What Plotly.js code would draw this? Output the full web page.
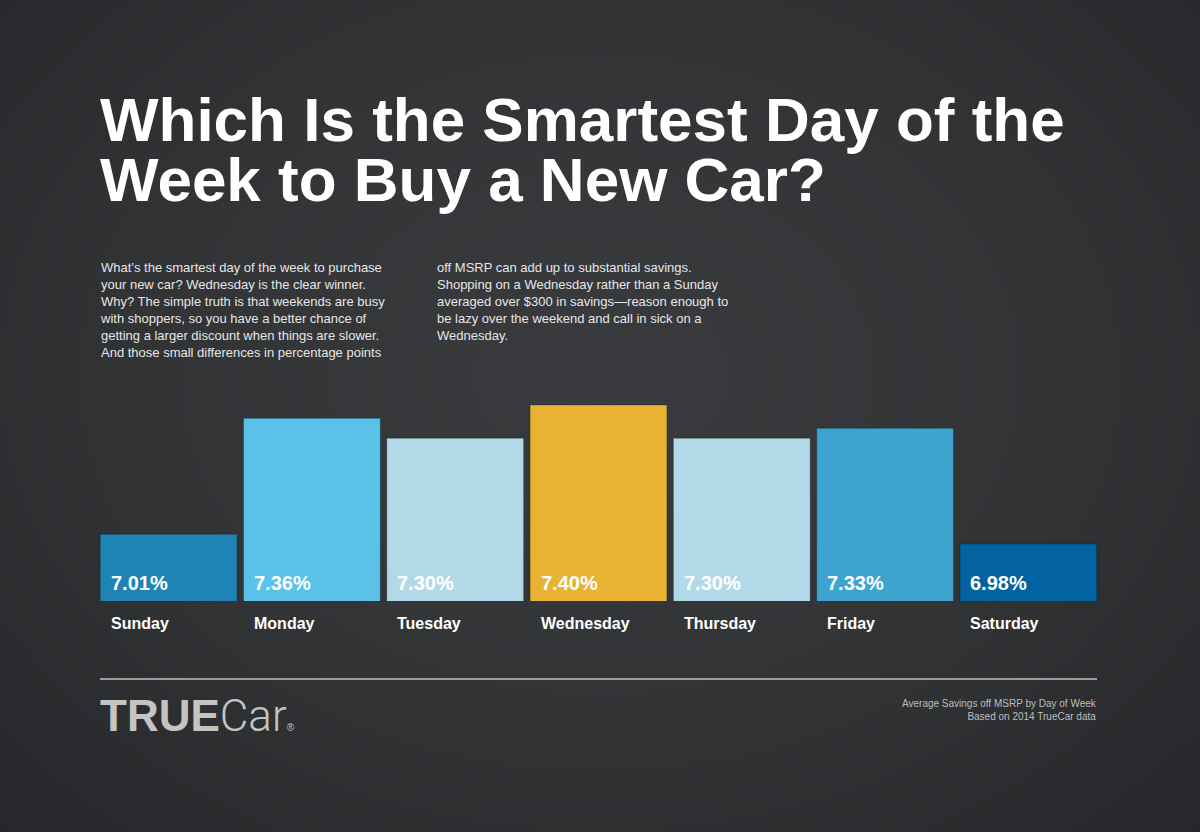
<!DOCTYPE html>
<html>
<head>
<meta charset="utf-8">
<script src="https://cdn.plot.ly/plotly-3.0.1.min.js"></script>
<style>
  html, body { margin: 0; padding: 0; }
  body {
    width: 1200px; height: 832px; overflow: hidden;
    background: radial-gradient(ellipse at 50% 45%, #393b3e 0%, #313335 55%, #26272a 100%);
  }
</style>
</head>
<body>
<div id="chart" style="width:1200px;height:832px;"></div>
<script>
var days = ['Sunday', 'Monday', 'Tuesday', 'Wednesday', 'Thursday', 'Friday', 'Saturday'];
var savings = [7.01, 7.36, 7.30, 7.40, 7.30, 7.33, 6.98];
var barColors = ['#2083b5', '#5ac1e9', '#b2d9e8', '#e8b232', '#b2d9e8', '#3da3cf', '#0263a0'];

var titleLines = ['Which Is the Smartest Day of the', 'Week to Buy a New Car?'];
var introLeft = [
  'What\u2019s the smartest day of the week to purchase',
  'your new car? Wednesday is the clear winner.',
  'Why? The simple truth is that weekends are busy',
  'with shoppers, so you have a better chance of',
  'getting a larger discount when things are slower.',
  'And those small differences in percentage points'
];
var introRight = [
  'off MSRP can add up to substantial savings.',
  'Shopping on a Wednesday rather than a Sunday',
  'averaged over $300 in savings\u2014reason enough to',
  'be lazy over the weekend and call in sick on a',
  'Wednesday.'
];
var footNote = ['Average Savings off MSRP by Day of Week', 'Based on 2014 TrueCar data'];

// plot area in pixels (bars run 100..1097 once the half gaps are taken off)
var L = 97, R = 1100, T = 390, B = 601;
function px(x) { return (x - L) / (R - L); }
function py(y) { return (B - y) / (B - T); }

var font = 'Liberation Sans, Arial, Helvetica, sans-serif';

var trace = {
  type: 'bar',
  x: days,
  y: savings,
  marker: {
    color: barColors,
    line: { color: 'rgba(0,0,0,0.25)', width: 1 }
  },
  hoverinfo: 'x+y'
};

var annotations = [];

days.forEach(function (d, i) {
  annotations.push({
    x: d, xref: 'x', xanchor: 'left', xshift: -60,
    y: 0, yref: 'paper', yanchor: 'middle', yshift: 18,
    text: '<b>' + savings[i].toFixed(2) + '%</b>',
    showarrow: false,
    font: { family: font, size: 20, color: '#ffffff' }
  });
  annotations.push({
    x: d, xref: 'x', xanchor: 'left', xshift: -60,
    y: 0, yref: 'paper', yanchor: 'middle', yshift: -22,
    text: '<b>' + d + '</b>',
    showarrow: false,
    font: { family: font, size: 16, color: '#ffffff' }
  });
});

titleLines.forEach(function (t, i) {
  annotations.push({
    x: px(98), xref: 'paper', xanchor: 'left',
    y: py(119 + i * 60), yref: 'paper', yanchor: 'middle',
    text: '<b>' + t + '</b>',
    showarrow: false,
    font: { family: font, size: 62, color: '#ffffff' }
  });
});

annotations.push({
  x: px(98), xref: 'paper', xanchor: 'left',
  y: py(258), yref: 'paper', yanchor: 'top', align: 'left',
  text: introLeft.join('<br>'),
  showarrow: false,
  font: { family: font, size: 13, color: '#e6e6e6' }
});
annotations.push({
  x: px(435), xref: 'paper', xanchor: 'left',
  y: py(258), yref: 'paper', yanchor: 'top', align: 'left',
  text: introRight.join('<br>'),
  showarrow: false,
  font: { family: font, size: 13, color: '#e6e6e6' }
});

annotations.push({
  x: px(1099), xref: 'paper', xanchor: 'right',
  y: py(696), yref: 'paper', yanchor: 'top', align: 'right',
  text: footNote.join('<br>'),
  showarrow: false,
  font: { family: font, size: 10, color: '#bdbdbd' }
});

// logo: bold TRUE + light Car
annotations.push({
  x: px(98), xref: 'paper', xanchor: 'left',
  y: py(716), yref: 'paper', yanchor: 'middle',
  text: '<b>TRUE</b><span style="font-family:Roboto, Lato, sans-serif;font-weight:300">Car</span>' +
        '<span style="font-size:10px">\u00ae</span>',
  showarrow: false,
  font: { family: font, size: 44, color: '#c4c4c4' }
});

var layout = {
  width: 1200,
  height: 832,
  margin: { l: L, r: 1200 - R, t: T, b: 832 - B },
  paper_bgcolor: 'rgba(0,0,0,0)',
  plot_bgcolor: 'rgba(0,0,0,0)',
  showlegend: false,
  bargap: 0.045,
  xaxis: {
    type: 'category',
    showgrid: false, zeroline: false, showline: false,
    showticklabels: false, ticks: ''
  },
  yaxis: {
    range: [6.808, 7.4455],
    showgrid: false, zeroline: false, showline: false,
    showticklabels: false, ticks: ''
  },
  shapes: [{
    type: 'line', xref: 'paper', yref: 'paper',
    x0: px(100), x1: px(1097), y0: py(679), y1: py(679),
    line: { color: '#9c9c9c', width: 2 }
  }],
  annotations: annotations
};

Plotly.newPlot('chart', [trace], layout, { displayModeBar: false, staticPlot: true });
</script>
</body>
</html>
